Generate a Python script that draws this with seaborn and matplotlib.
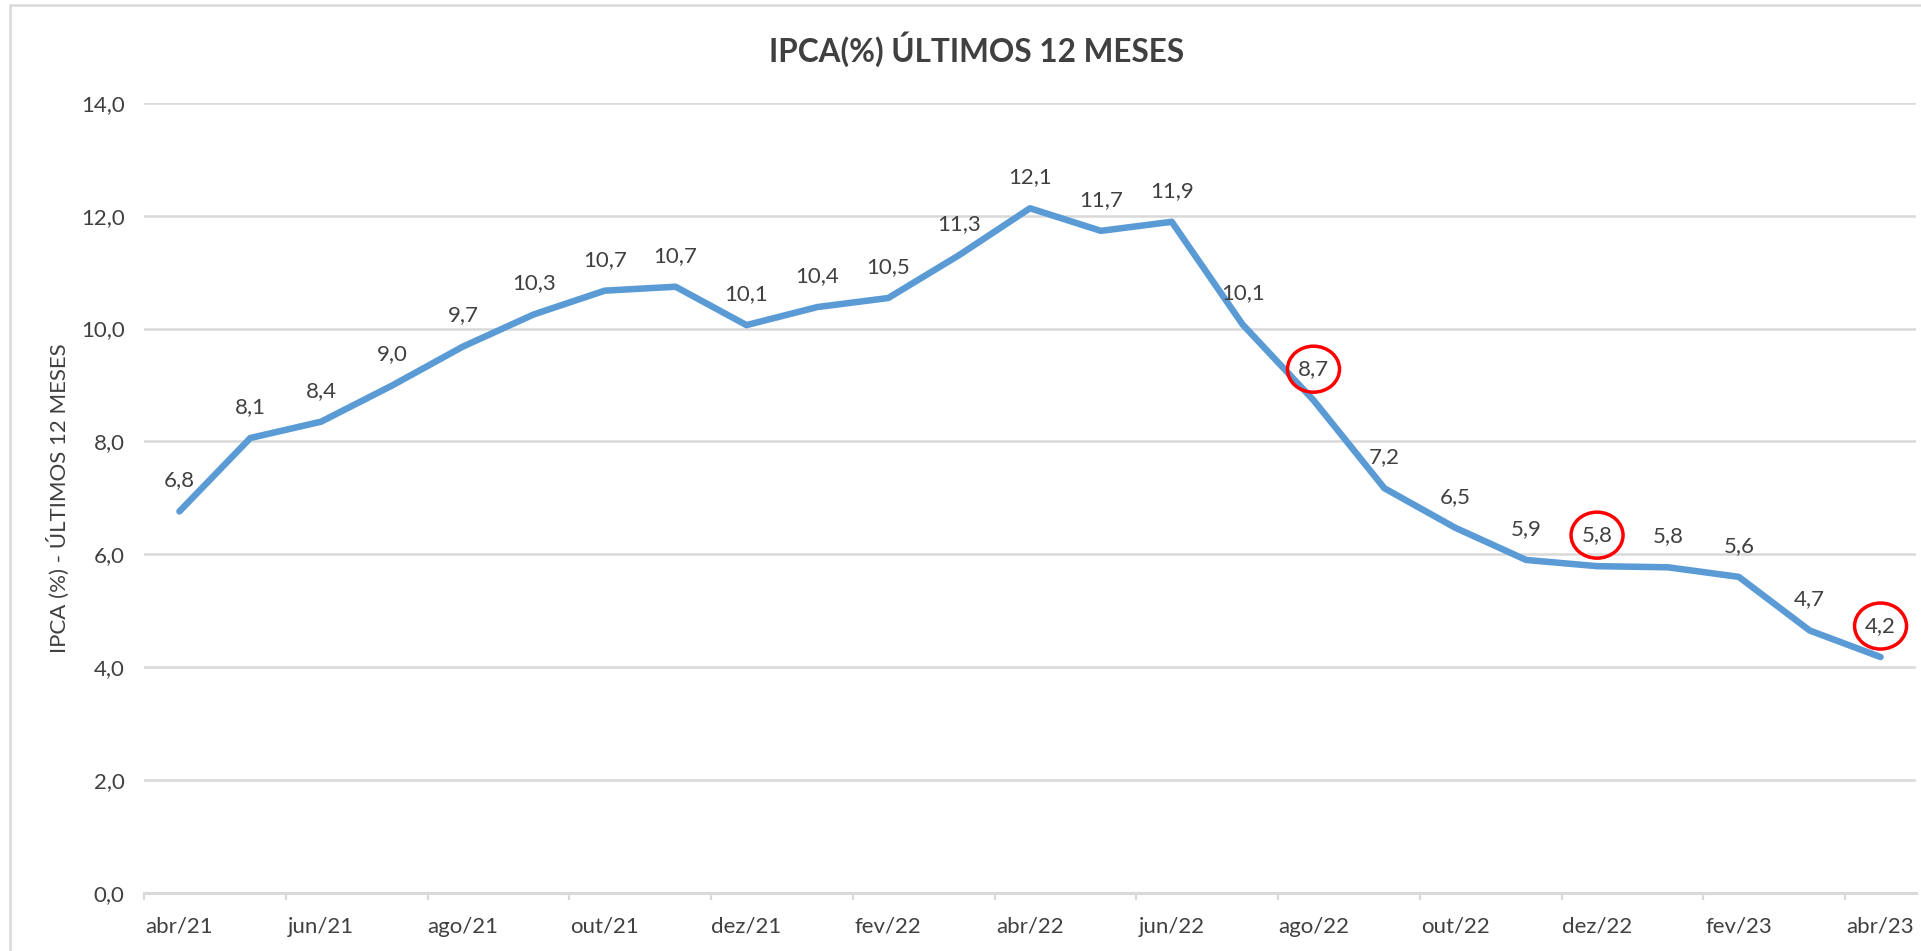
import matplotlib
matplotlib.use("Agg")
import matplotlib.pyplot as plt
import seaborn as sns
import pandas as pd
from matplotlib.patches import Ellipse
from matplotlib.lines import Line2D
from decimal import Decimal, ROUND_HALF_UP

months = ["abr/21", "mai/21", "jun/21", "jul/21", "ago/21", "set/21", "out/21",
          "nov/21", "dez/21", "jan/22", "fev/22", "mar/22", "abr/22", "mai/22",
          "jun/22", "jul/22", "ago/22", "set/22", "out/22", "nov/22", "dez/22",
          "jan/23", "fev/23", "mar/23", "abr/23"]
ipca = [6.76, 8.06, 8.35, 8.99, 9.68, 10.25, 10.67, 10.74, 10.06, 10.38, 10.54,
        11.30, 12.13, 11.73, 11.89, 10.07, 8.73, 7.17, 6.47, 5.90, 5.79, 5.77,
        5.60, 4.65, 4.18]
highlighted = ["ago/22", "dez/22", "abr/23"]
yticks = [0, 2, 4, 6, 8, 10, 12, 14]

title = "IPCA(%) ÚLTIMOS 12 MESES"
ylabel = "IPCA (%) - ÚLTIMOS 12 MESES"

sns.set_theme(style="white")
plt.rcParams["font.family"] = ["Lato", "DejaVu Sans"]

TXT = "#404040"
GRID = "#D9D9D9"
BLUE = "#5B9BD5"
FS = 16

W, H = 1921, 951
fig = plt.figure(figsize=(W / 100, H / 100), dpi=100)
ax = fig.add_axes([144 / W, 1 - 893 / H, (1916 - 144) / W, (893 - 102.7) / H])

df = pd.DataFrame({"pos": range(len(months)), "mes": months, "ipca": ipca})
sns.lineplot(data=df, x="pos", y="ipca", ax=ax, color=BLUE, linewidth=4.7,
             solid_capstyle="round", solid_joinstyle="round")

ax.set_xlim(-0.5, len(months) - 0.5)
ax.set_ylim(0, 14)

def fmt(v):
    q = Decimal(str(v)).quantize(Decimal("0.1"), rounding=ROUND_HALF_UP)
    return str(q).replace(".", ",")

ax.set_yticks(yticks)
ax.set_yticklabels([fmt(float(t)) for t in yticks])
ax.tick_params(axis="y", length=0, pad=14, labelsize=FS, labelcolor=TXT)

major = list(range(0, len(months), 2))
ax.set_xticks(major)
ax.set_xticklabels([months[i] for i in major])
ax.set_xticks([i - 0.5 for i in major], minor=True)
ax.tick_params(axis="x", which="major", length=0, pad=17, labelsize=FS, labelcolor=TXT)
ax.tick_params(axis="x", which="minor", length=5, width=1.6, color=GRID, bottom=True)

ax.yaxis.grid(True, color=GRID, linewidth=1.8)
ax.xaxis.grid(False)
for s in ["top", "right", "left"]:
    ax.spines[s].set_visible(False)
ax.spines["bottom"].set_color(GRID)
ax.spines["bottom"].set_linewidth(2.2)
ax.set_axisbelow(True)

ax.set_xlabel("")
ax.set_ylabel(ylabel, fontsize=FS, color=TXT)
ax.yaxis.set_label_coords((58 - 144) / (1916 - 144), 0.5)
ax.yaxis.label.set_va("center")

label_off_px = 31
px_per_unit = (893 - 102.7) / 14
px_per_cat = (1916 - 144) / len(months)
for i, (m, v) in enumerate(zip(months, ipca)):
    ax.annotate(fmt(v), (i, v), xytext=(0, label_off_px * 0.72), textcoords="offset points",
                ha="center", va="center", fontsize=FS, color=TXT)
    if m in highlighted:
        cy = v + label_off_px / px_per_unit
        ax.add_patch(Ellipse((i, cy), width=52 / px_per_cat, height=46 / px_per_unit,
                             fill=False, edgecolor="#FF0000", linewidth=2.5, zorder=5,
                             clip_on=False))

fig.text(977 / W, 1 - 49 / H, title, ha="center", va="center", fontsize=22.7,
         fontweight="bold", color=TXT)

# chart area border
fig.add_artist(Line2D([10 / W, 10 / W], [0, 1 - 5 / H], color=GRID, linewidth=1.8,
                      transform=fig.transFigure))
fig.add_artist(Line2D([10 / W, 1], [1 - 5 / H, 1 - 5 / H], color=GRID, linewidth=1.8,
                      transform=fig.transFigure))

fig.savefig("out.png", dpi=100)
